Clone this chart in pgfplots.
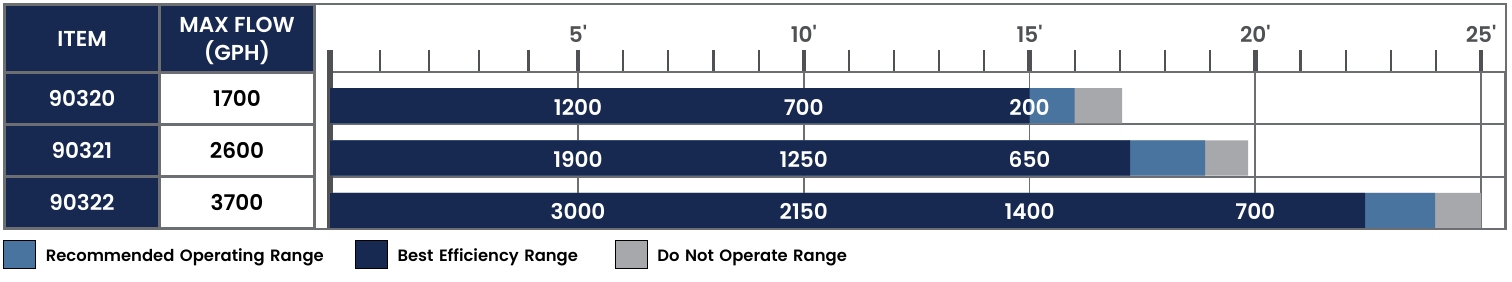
\documentclass[border=0pt]{standalone}
\usepackage{pgfplots}
\usepackage{pgfplotstable}
\pgfplotsset{compat=1.18}
\usepackage{fontspec}
\setmainfont{Poppins}[BoldFont={Poppins SemiBold}]
\newfontfamily\tickfont{Poppins SemiBold}
\definecolor{navy}{RGB}{23,41,80}
\definecolor{rblue}{RGB}{74,116,160}
\definecolor{dgray}{RGB}{167,168,171}
\definecolor{lgray}{RGB}{109,110,113}
\definecolor{tgray}{RGB}{80,81,84}
\newcommand\tf{\fontsize{10.8}{12}\selectfont\bfseries}
\newcommand\kf{\fontsize{10.8}{12}\selectfont\tickfont}
\newcommand\lf{\fontsize{8.2}{10}\selectfont\bfseries}

% bar end positions (feet of head) for each model row
\pgfplotstableread{
row dark blue stop
0 15.00 16.00 17.05
1 17.23 18.89 19.84
2 22.43 23.98 25.00
}\bars
% flow (GPH) at given head
\pgfplotstableread{
x y lab
5 0 1200
10 0 700
15 0 200
5 1 1900
10 1 1250
15 1 650
5 2 3000
10 2 2150
15 2 1400
20 2 700
}\labs

\begin{document}
\begin{tikzpicture}
\useasboundingbox (0,0) rectangle (756pt,-141pt);
\begin{scope}[x=0.5pt,y=-0.5pt]
  \fill[lgray] (4,4) rectangle (315,229);
  \fill[navy] (6,6) rectangle (158,71);
  \fill[navy] (6,74) rectangle (158,123);
  \fill[navy] (6,126) rectangle (158,175);
  \fill[navy] (6,178) rectangle (158,227);
  \fill[navy] (161,6) rectangle (313,71);
  \fill[white] (161,74) rectangle (313,123);
  \fill[white] (161,126) rectangle (313,175);
  \fill[white] (161,178) rectangle (313,227);
  \node[font=\tf, text=white, anchor=base] at (82,47) {ITEM};
  \node[font=\tf, text=white, anchor=base] at (237,33) {MAX FLOW};
  \node[font=\tf, text=white, anchor=base] at (237,61) {(GPH)};
  \node[font=\tf, text=white, anchor=base] at (82,107) {90320};
  \node[font=\tf, text=white, anchor=base] at (82,159) {90321};
  \node[font=\tf, text=white, anchor=base] at (82,211) {90322};
  \node[font=\tf, text=black, anchor=base] at (237,107) {1700};
  \node[font=\tf, text=black, anchor=base] at (237,159) {2600};
  \node[font=\tf, text=black, anchor=base] at (237,211) {3700};
\end{scope}
\begin{axis}[
  at={(165pt,-114.5pt)}, anchor=south west,
  width=587.5pt, height=78.5pt, scale only axis,
  xmin=0, xmax=25.53, ymin=-0.5, ymax=2.5, y dir=reverse,
  x coord trafo/.code={\pgfmathparse{ifthenelse(#1<5,#1*1.0986,#1+0.4926)}},
  x coord inv trafo/.code={\pgfmathparse{ifthenelse(#1<5.493,#1/1.0986,#1-0.4926)}},
  bar width=0.673, bar shift=0.144,
  axis line style={draw=lgray, line width=1pt},
  xtick={5,10,15,20,25},
  xticklabels={5',10',15',20',25'},
  xtick pos=right, xticklabel pos=right,
  minor xtick={1,2,3,4,6,7,8,9,11,12,13,14,16,17,18,19,21,22,23,24},
  tick align=outside,
  major tick length=11pt, minor tick length=11pt,
  major tick style={draw=tgray, line width=2.2pt},
  minor tick style={draw=tgray, line width=1.1pt},
  xmajorgrids, ymajorgrids,
  major grid style={draw=lgray, line width=0.9pt},
  ytick={0.5,1.5}, yticklabels={}, ytick style={draw=none},
  extra x ticks={0}, extra x tick labels={},
  extra x tick style={major tick style={draw=tgray, line width=3pt}, major grid style={draw=tgray, line width=3pt}},
  xticklabel style={font=\kf, text=tgray},
  legend columns=3,
  legend style={at={(-0.2783,-0.0701)}, anchor=north west, draw=none, fill=none,
    inner sep=0pt, outer sep=0pt, font=\lf, nodes={inner sep=0pt}},
  legend cell align=left,
  legend image code/.code={\fill[#1] (0pt,-3.5pt) rectangle (16pt,10.5pt); \path (21pt,0pt);},
]
\addplot[xbar, fill=dgray, draw=none, forget plot] table[x=stop, y=row]{\bars};
\addplot[xbar, fill=rblue, draw=none, forget plot] table[x=blue, y=row]{\bars};
\addplot[xbar, fill=navy, draw=none, forget plot] table[x=dark, y=row]{\bars};
\addplot[only marks, mark=none, forget plot, nodes near coords, point meta=explicit symbolic,
  nodes near coords style={anchor=center, yshift=-4.5pt, text=white, font=\tf}]
  table[x=x, y=y, meta=lab]{\labs};
\addlegendimage{fill=rblue}
\addlegendentry[text width=154.5pt, align=left, anchor=base west]{Recommended Operating Range}
\addlegendimage{fill=navy}
\addlegendentry[text width=108.5pt, align=left, anchor=base west]{Best Efficiency Range}
\addlegendimage{fill=dgray}
\addlegendentry[text width=120pt, align=left, anchor=base west]{Do Not Operate Range}
\end{axis}
\begin{scope}[x=0.5pt,y=-0.5pt]
  \draw[lgray, line width=1.1pt] (4,4) rectangle (1506,229);
  \draw[lgray, line width=0.75pt] (315,4) -- (315,229);
\end{scope}
\end{tikzpicture}
\end{document}
